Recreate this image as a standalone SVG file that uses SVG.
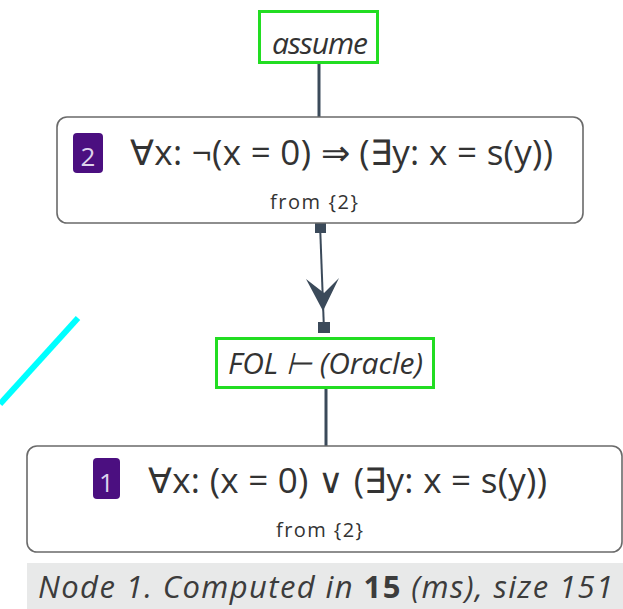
<svg xmlns="http://www.w3.org/2000/svg" width="623" height="609" viewBox="0 0 623 609">
<style>
.rule{fill:#fff;stroke:#22dd22;stroke-width:3}
.node{fill:#fff;stroke:#6a6a6a;stroke-width:1.6}
.rt{font-family:"Open Sans","Noto Sans",sans-serif;font-style:italic;font-size:30px;fill:#333}
.ft{font-family:"Open Sans","Noto Sans",sans-serif;font-size:35px;fill:#333}
.fr{font-family:"Open Sans","Noto Sans",sans-serif;font-size:20px;fill:#333}
.badge{fill:#4b0f80}
.bt{font-family:"Open Sans","Noto Sans",sans-serif;font-size:26px;fill:#ddd2ec}
.edge{stroke:#3b4a5a;stroke-width:3;fill:none}
.sq{fill:#3b4a5a}
</style>
<line x1="0" y1="404" x2="78" y2="318" stroke="#00ffff" stroke-width="6"/>
<g id="connectors">
<line class="edge" x1="319" y1="62" x2="319" y2="117"/>
<line class="edge" x1="320" y1="224" x2="324" y2="330" style="stroke-width:2"/>
<rect class="sq" x="315" y="223" width="11" height="10"/>
<rect class="sq" x="318" y="322" width="12" height="11"/>
<path class="sq" d="M306,279 L324,293 L339,278 L323,311 Z"/>
<line class="edge" x1="326" y1="388" x2="326" y2="446"/>
</g>
<g id="assume">
<rect class="rule" x="259.500" y="11.500" width="118" height="51"/>
<text class="rt" x="272" y="54" textLength="96">assume</text>
</g>
<g id="node2">
<rect class="node" x="57" y="117" width="526" height="106" rx="10"/>
<rect class="badge" x="73" y="133" width="30" height="40" rx="4"/>
<text class="bt" x="88" y="166" text-anchor="middle">2</text>
<text class="ft" x="130" y="165" textLength="423">∀x: ¬(x = 0) ⇒ (∃y: x = s(y))</text>
<text class="fr" x="270" y="209" textLength="88">from  {2}</text>
</g>
<g id="oracle">
<rect class="rule" x="216.500" y="338.500" width="217" height="49"/>
<text class="rt" x="228" y="374" textLength="195">FOL ⊢ (Oracle)</text>
</g>
<g id="node1">
<rect class="node" x="27" y="446" width="595" height="106" rx="10"/>
<rect class="badge" x="93" y="458" width="27" height="41" rx="4"/>
<text class="bt" x="106.500" y="492" text-anchor="middle">1</text>
<text class="ft" x="148" y="493" textLength="399">∀x: (x = 0) ∨ (∃y: x = s(y))</text>
<text class="fr" x="276" y="537" textLength="87">from  {2}</text>
</g>
<g id="caption">
<rect x="27" y="563" width="596" height="46" fill="#e8e9e9"/>
<text x="38" y="598" textLength="575" style="font-family:'Open Sans','Noto Sans',sans-serif;font-style:italic;font-size:31px;fill:#3c3c3c">Node 1. Computed in <tspan font-weight="bold" font-style="normal">15</tspan> (ms), size 151</text>
</g>
</svg>
